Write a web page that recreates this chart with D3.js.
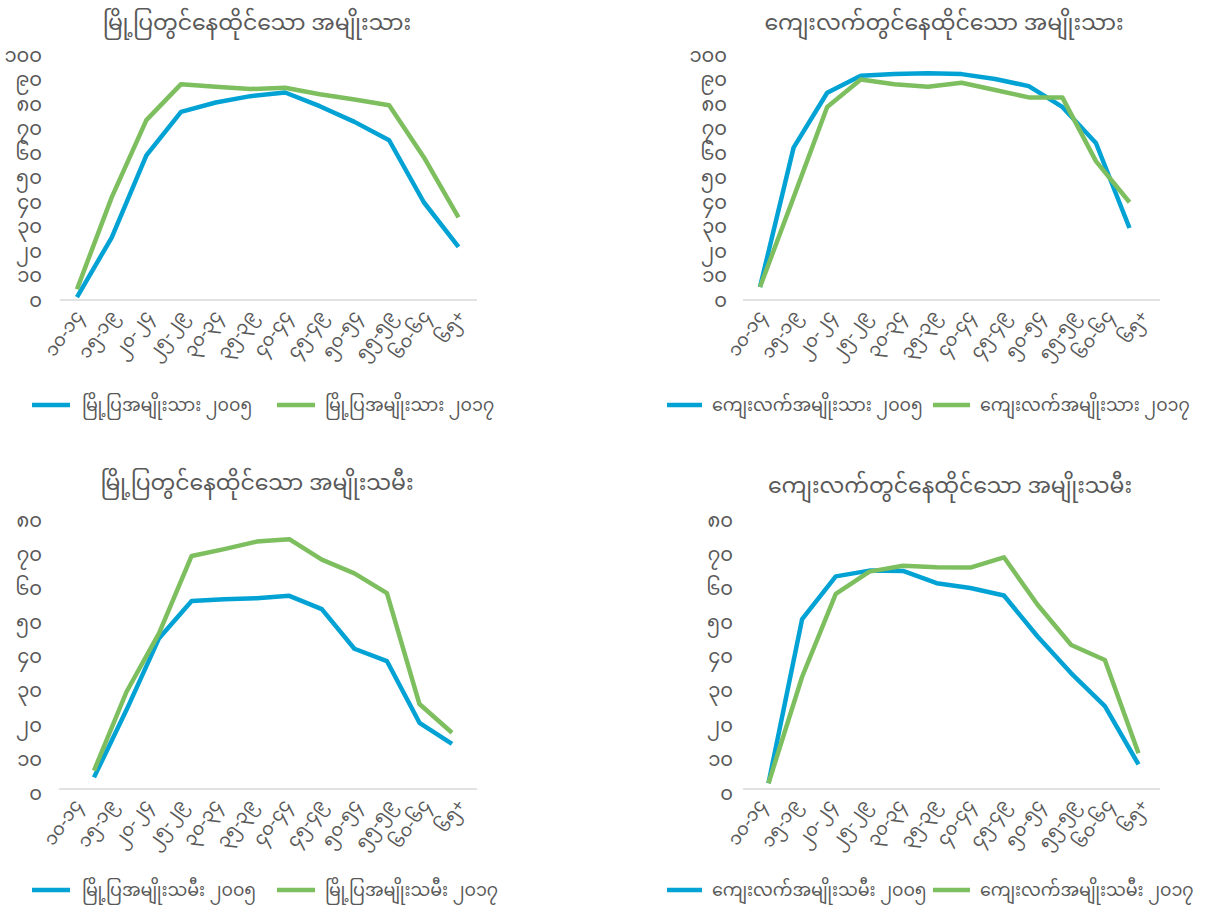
<!DOCTYPE html>
<html>
<head>
<meta charset="utf-8">
<script src="https://cdn.jsdelivr.net/npm/d3@7"></script>
<style>
  html, body { margin: 0; padding: 0; background: #fff; }
  svg { display: block; }
  text { font-family: "Noto Sans Myanmar", "Myanmar Text", "Padauk", "Noto Sans", sans-serif; fill: #595959; }
</style>
</head>
<body>
<svg id="chart" width="1229" height="909"></svg>
<script>
// ---- Data ----
const categories = ["၁၀-၁၄","၁၅-၁၉","၂၀-၂၄","၂၅-၂၉","၃၀-၃၄","၃၅-၃၉","၄၀-၄၄","၄၅-၄၉","၅၀-၅၄","၅၅-၅၉","၆၀-၆၄","၆၅+"];

const urbanMale2005   = [1.2, 25.5, 59.0, 76.8, 80.6, 83.2, 84.7, 79.1, 72.7, 65.2, 39.9, 21.7];
const urbanMale2017   = [4.4, 41.9, 73.4, 88.1, 87.0, 86.1, 86.6, 84.0, 81.8, 79.5, 58.3, 33.7];
const ruralMale2005   = [5.3, 62.2, 84.6, 91.5, 92.2, 92.6, 92.2, 90.2, 87.3, 78.8, 64.1, 29.4];
const ruralMale2017   = [5.3, 41.9, 78.8, 90.0, 88.1, 87.0, 88.7, 85.7, 82.7, 82.7, 56.7, 39.9];
const urbanFemale2005 = [3.4, 23.2, 44.2, 55.1, 55.6, 55.9, 56.6, 52.7, 41.1, 37.5, 19.4, 13.2];
const urbanFemale2017 = [5.4, 28.5, 45.7, 68.3, 70.3, 72.5, 73.2, 67.2, 63.2, 57.4, 24.9, 16.5];
const ruralFemale2005 = [1.7, 49.8, 62.3, 64.0, 63.9, 60.3, 58.9, 56.7, 44.7, 33.9, 24.3, 7.2];
const ruralFemale2017 = [1.7, 32.9, 57.2, 63.7, 65.4, 65.0, 64.9, 67.9, 54.0, 42.2, 37.8, 10.5];

const titles = ["မြို့ပြတွင်နေထိုင်သော အမျိုးသား","ကျေးလက်တွင်နေထိုင်သော အမျိုးသား","မြို့ပြတွင်နေထိုင်သော အမျိုးသမီး","ကျေးလက်တွင်နေထိုင်သော အမျိုးသမီး"];
const legendNames = [
  ["မြို့ပြအမျိုးသား ၂၀၀၅","မြို့ပြအမျိုးသား ၂၀၁၇"],
  ["ကျေးလက်အမျိုးသား ၂၀၀၅","ကျေးလက်အမျိုးသား ၂၀၁၇"],
  ["မြို့ပြအမျိုးသမီး ၂၀၀၅","မြို့ပြအမျိုးသမီး ၂၀၁၇"],
  ["ကျေးလက်အမျိုးသမီး ၂၀၀၅","ကျေးလက်အမျိုးသမီး ၂၀၁၇"]
];
const yTicksTop = [0,10,20,30,40,50,60,70,80,90,100];
const yTicksBottom = [0,10,20,30,40,50,60,70,80];
const myDigits = "၀၁၂၃၄၅၆၇၈၉";
const toMy = n => String(n).split("").map(c => myDigits[+c]).join("");

const seriesColors = ["#02A3D4", "#7DBE5F"];

// ---- Layout ----
const panels = [
  { s: [urbanMale2005, urbanMale2017], x0: 60, x1: 477, yB: 300, yT: 55, max: 100, ticks: yTicksTop,
    tx: 257, ty: 30, labX: 42, labDy: 0, inset: [17, 18.5], legY: 405, leg: [[32,70,82],[277,315,325]] },
  { s: [ruralMale2005, ruralMale2017], x0: 743, x1: 1160, yB: 300, yT: 55, max: 100, ticks: yTicksTop,
    tx: 944, ty: 30, labX: 727, labDy: 0, inset: [17, 30.5], legY: 405, leg: [[667,702,712],[933,970,980]] },
  { s: [urbanFemale2005, urbanFemale2017], x0: 59, x1: 477, yB: 789, yT: 516, max: 80, ticks: yTicksBottom,
    tx: 257, ty: 490, labX: 42, labDy: 4, inset: [35, 25], legY: 890, leg: [[32,70,82],[277,315,325]] },
  { s: [ruralFemale2005, ruralFemale2017], x0: 743, x1: 1160, yB: 789, yT: 516, max: 80, ticks: yTicksBottom,
    tx: 950, ty: 493, labX: 733, labDy: 4, inset: [25.5, 21.5], legY: 890, leg: [[667,702,712],[933,970,980]] }
];

const svg = d3.select("#chart");

panels.forEach((p, i) => {
  const g = svg.append("g");
  const xBand = d3.scaleBand().domain(categories).range([p.x0, p.x1]);
  const xLine = d3.scalePoint().domain(categories).range([p.x0 + p.inset[0], p.x1 - p.inset[1]]);
  const y = d3.scaleLinear().domain([0, p.max]).range([p.yB, p.yT]);

  // title
  g.append("text").attr("x", p.tx).attr("y", p.ty).attr("text-anchor", "middle")
    .attr("font-size", 22).text(titles[i]);

  // y labels
  g.selectAll(".yl").data(p.ticks).join("text")
    .attr("x", p.labX).attr("y", d => y(d) + p.labDy).attr("dy", "0.35em")
    .attr("text-anchor", "end").attr("font-size", 19.5).text(d => toMy(d));

  // baseline
  g.append("line").attr("x1", p.x0).attr("x2", p.x1).attr("y1", y(0)).attr("y2", y(0))
    .attr("stroke", "#D9D9D9").attr("stroke-width", 1.3);

  // x labels
  g.selectAll(".xl").data(categories).join("text")
    .attr("transform", d => `translate(${xBand(d) + xBand.bandwidth()/2 + 6},${p.yB + 16}) rotate(-55)`)
    .attr("text-anchor", "end").attr("font-size", 18).text(d => d);

  // lines
  const line = d3.line().x((d, j) => xLine(categories[j])).y(d => y(d));
  p.s.forEach((vals, k) => {
    g.append("path").datum(vals).attr("d", line).attr("fill", "none")
      .attr("stroke", seriesColors[k]).attr("stroke-width", 4.5).attr("stroke-linejoin", "round");
  });

  // legend
  p.leg.forEach((L, k) => {
    g.append("line").attr("x1", L[0]).attr("x2", L[1]).attr("y1", p.legY).attr("y2", p.legY)
      .attr("stroke", seriesColors[k]).attr("stroke-width", 4.5);
    g.append("text").attr("x", L[2]).attr("y", p.legY).attr("dy", "0.35em")
      .attr("font-size", 17.5).text(legendNames[i][k]);
  });
});
</script>
</body>
</html>
